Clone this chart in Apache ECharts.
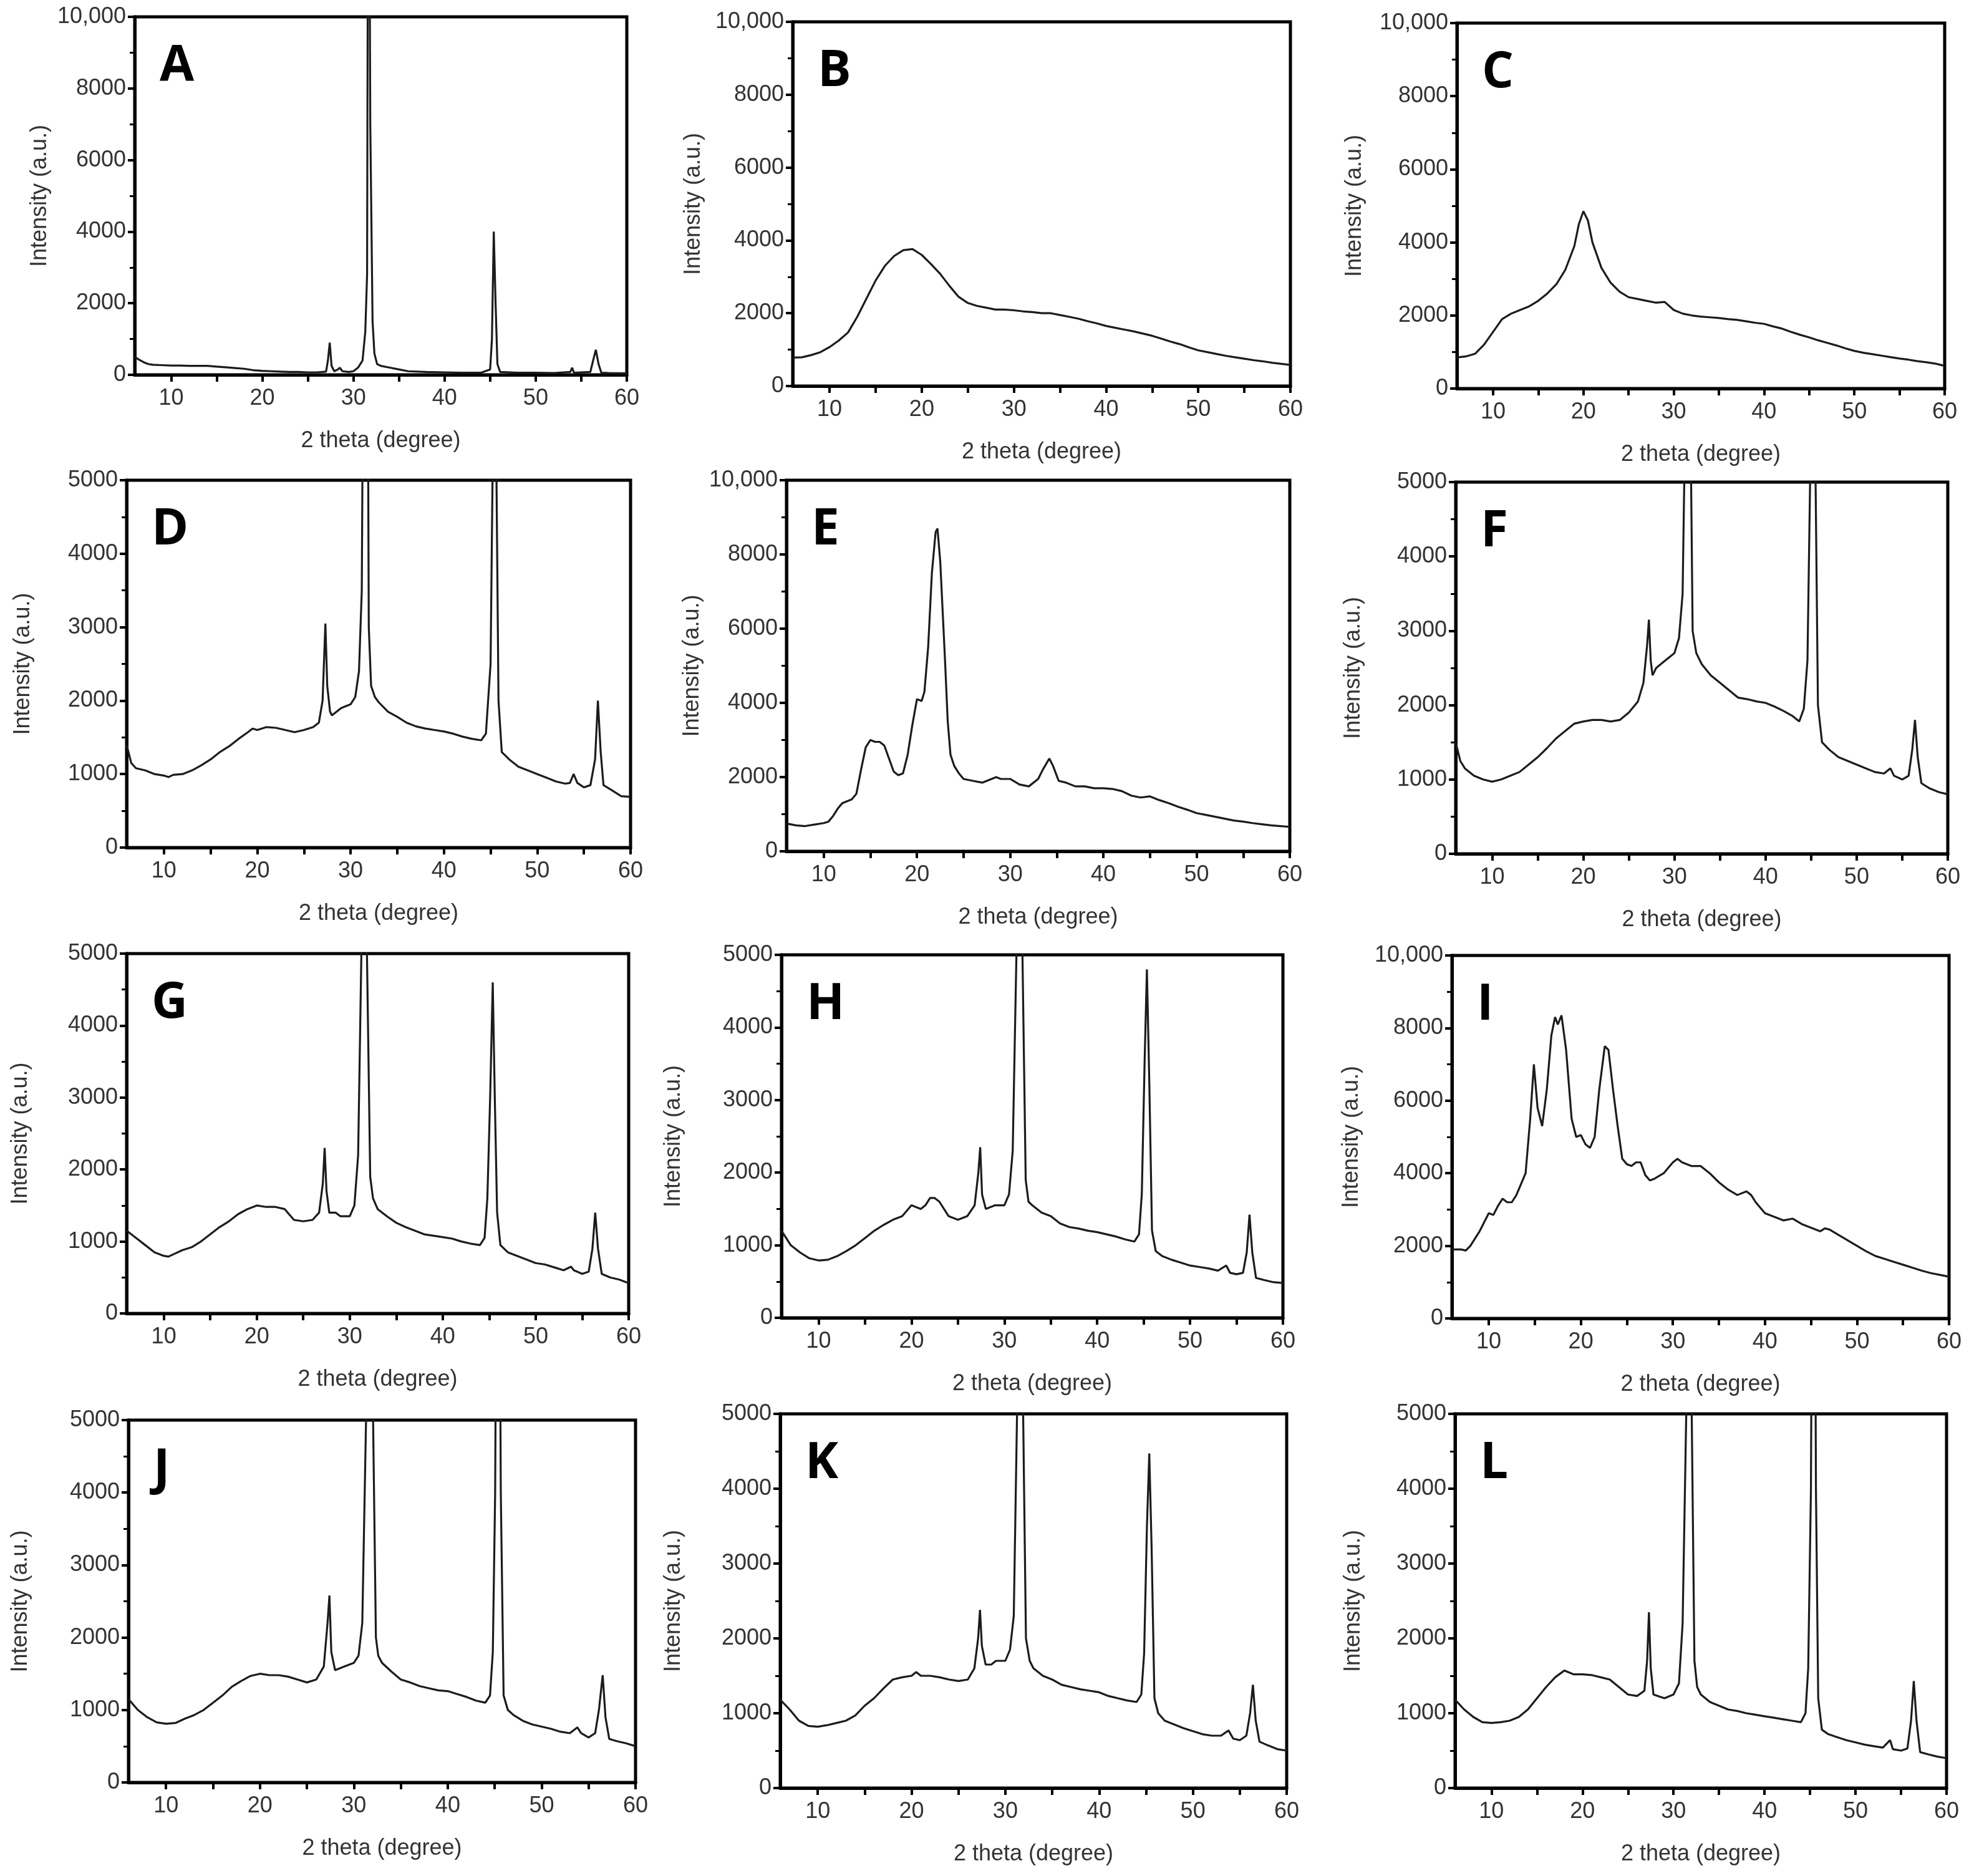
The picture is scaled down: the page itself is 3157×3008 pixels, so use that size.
<!DOCTYPE html>
<html><head><meta charset="utf-8">
<script src="https://cdn.jsdelivr.net/npm/echarts@6/dist/echarts.min.js"></script>
<style>html,body{margin:0;padding:0;background:#fff}#c{width:3157px;height:3008px}</style>
</head><body><div id="c"></div>
<script>
// ---------- DATA ----------
const letters = ['A','B','C','D','E','F','G','H','I','J','K','L'];
const yMaxes = [10000,10000,10000,5000,10000,5000,5000,5000,10000,5000,5000,5000];
const xLabelValues = [10,20,30,40,50,60];
const xTickValues = [10,15,20,25,30,35,40,45,50,55,60];
const xTitle = '2 theta (degree)';
const yTitle = 'Intensity (a.u.)';

const seriesA = [[6,500],[6.5,420],[7,350],[7.5,300],[8,280],[9,270],[10,260],[11,260],[12,250],[13,250],[14,250],[15,230],[16,210],[17,190],[18,170],[19,130],[20,110],[21,100],[22,90],[23,80],[24,80],[25,70],[26,70],[27,90],[27.2,400],[27.4,900],[27.6,250],[27.9,100],[28.3,150],[28.5,200],[28.8,100],[29.5,80],[30,100],[30.5,200],[31,400],[31.3,1200],[31.5,2800],[31.65,20000],[31.85,7000],[32.1,1500],[32.3,600],[32.6,300],[33,250],[34,200],[35,150],[36,100],[38,80],[40,70],[42,60],[44,60],[45,150],[45.2,1000],[45.4,4000],[45.6,2000],[45.8,300],[46.1,80],[48,60],[50,60],[52,50],[53.8,80],[54,200],[54.2,60],[56,80],[56.3,400],[56.6,700],[56.9,300],[57.2,60],[58,50],[60,40]];
const seriesB = [[6,780],[7,790],[8,850],[9,930],[10,1070],[11,1250],[12,1470],[13,1900],[14,2400],[15,2900],[16,3300],[17,3570],[18,3730],[19,3760],[20,3600],[21,3350],[22,3080],[23,2750],[24,2450],[25,2280],[26,2200],[27,2150],[28,2100],[29,2100],[30,2080],[31,2050],[32,2030],[33,2000],[34,2000],[35,1950],[36,1900],[37,1850],[38,1780],[39,1720],[40,1650],[41,1600],[42,1550],[43,1500],[44,1440],[45,1380],[46,1300],[47,1220],[48,1150],[49,1060],[50,980],[51,930],[52,880],[53,830],[54,790],[55,750],[56,710],[57,680],[58,640],[59,610],[60,580]];
const seriesC = [[6,850],[7,880],[8,950],[9,1200],[10,1550],[11,1900],[12,2050],[13,2150],[14,2250],[15,2400],[16,2600],[17,2850],[18,3250],[19,3900],[19.5,4500],[20,4850],[20.5,4600],[21,4000],[22,3300],[23,2900],[24,2650],[25,2500],[26,2450],[27,2400],[28,2350],[29,2370],[30,2150],[31,2050],[32,2000],[33,1970],[34,1950],[35,1930],[36,1900],[37,1880],[38,1840],[39,1800],[40,1770],[41,1700],[42,1640],[43,1550],[44,1470],[45,1400],[46,1320],[47,1250],[48,1180],[49,1100],[50,1030],[51,980],[52,940],[53,900],[54,860],[55,820],[56,790],[57,750],[58,720],[59,680],[60,620]];
const seriesD = [[6,1400],[6.5,1150],[7,1080],[8,1050],[9,1000],[10,980],[10.5,960],[11,990],[12,1000],[13,1050],[14,1120],[15,1200],[16,1300],[17,1380],[18,1480],[19,1570],[19.5,1620],[20,1600],[21,1640],[22,1630],[23,1600],[24,1570],[25,1600],[26,1640],[26.6,1700],[27.0,2000],[27.3,3050],[27.5,2200],[27.8,1850],[28,1800],[29,1900],[30,1950],[30.5,2050],[30.9,2400],[31.2,3500],[31.4,8000],[31.6,20000],[31.8,8000],[31.95,3000],[32.2,2200],[32.6,2050],[33,1980],[34,1850],[35,1780],[36,1700],[37,1650],[38,1620],[39,1600],[40,1580],[41,1550],[42,1510],[43,1480],[44,1460],[44.5,1550],[45.0,2500],[45.25,5500],[45.42,12000],[45.6,5500],[45.85,2000],[46.2,1300],[47,1200],[48,1100],[49,1050],[50,1000],[51,950],[52,900],[53,870],[53.5,880],[53.9,1000],[54.3,880],[55,820],[55.7,850],[56.2,1200],[56.5,2000],[56.8,1300],[57.1,850],[58,780],[59,700],[60,690]];
const seriesE = [[6,750],[7,700],[8,680],[9,720],[10,760],[10.5,800],[11,950],[11.5,1150],[12,1300],[13,1400],[13.5,1550],[14,2200],[14.5,2800],[15,3000],[15.5,2950],[16,2950],[16.5,2850],[17,2500],[17.5,2150],[18,2050],[18.5,2100],[19,2600],[19.5,3400],[20,4100],[20.5,4050],[20.8,4300],[21.2,5500],[21.6,7500],[22.0,8600],[22.2,8700],[22.5,7800],[23,5200],[23.3,3500],[23.6,2600],[24,2300],[24.5,2100],[25,1950],[26,1900],[27,1850],[28,1950],[28.5,2000],[29,1950],[30,1950],[31,1800],[32,1750],[33,1950],[33.5,2200],[34.2,2500],[34.6,2300],[35.2,1900],[36,1850],[37,1750],[38,1750],[39,1700],[40,1700],[41,1680],[42,1620],[43,1500],[44,1450],[45,1480],[46,1380],[47,1300],[48,1200],[49,1120],[50,1030],[51,980],[52,930],[53,880],[54,830],[55,800],[56,760],[57,730],[58,700],[59,680],[60,660]];
const seriesF = [[6,1500],[6.5,1250],[7,1150],[8,1050],[9,1000],[10,970],[11,1000],[12,1050],[13,1100],[14,1200],[15,1300],[16,1420],[17,1550],[18,1650],[19,1750],[20,1780],[21,1800],[22,1800],[23,1780],[24,1800],[25,1900],[26,2050],[26.6,2300],[27.0,2800],[27.2,3150],[27.4,2600],[27.6,2400],[28,2500],[29,2600],[30,2700],[30.5,2900],[30.9,3500],[31.2,6000],[31.5,20000],[31.75,6000],[32.0,3000],[32.4,2700],[33,2550],[34,2400],[35,2300],[36,2200],[37,2100],[38,2080],[39,2050],[40,2030],[41,1980],[42,1920],[43,1850],[43.7,1780],[44.2,1950],[44.6,2600],[44.95,5500],[45.2,12000],[45.45,5500],[45.75,2000],[46.2,1500],[47,1400],[48,1300],[49,1250],[50,1200],[51,1150],[52,1100],[53,1080],[53.7,1150],[54.1,1050],[55,1000],[55.7,1050],[56.1,1400],[56.4,1800],[56.7,1300],[57.1,950],[58,880],[59,830],[60,800]];
const seriesG = [[6,1150],[7,1050],[8,950],[9,850],[10,800],[10.5,790],[11,820],[12,880],[13,920],[14,1000],[15,1100],[16,1200],[17,1280],[18,1380],[19,1450],[20,1500],[21,1480],[22,1480],[23,1450],[24,1300],[25,1280],[26,1300],[26.7,1400],[27.1,1800],[27.3,2300],[27.5,1700],[27.8,1400],[28.5,1400],[29,1350],[30,1350],[30.5,1500],[30.9,2200],[31.25,5000],[31.55,20000],[31.85,5000],[32.2,1900],[32.5,1600],[33,1450],[34,1350],[35,1260],[36,1200],[37,1150],[38,1100],[39,1080],[40,1060],[41,1040],[42,1000],[43,970],[44,950],[44.5,1050],[44.8,1600],[45.1,3000],[45.38,4600],[45.6,3000],[45.85,1400],[46.2,950],[47,850],[48,800],[49,750],[50,700],[51,680],[52,640],[53,600],[53.8,650],[54.1,600],[55,550],[55.7,580],[56.1,900],[56.4,1400],[56.7,900],[57.1,550],[58,500],[59,470],[60,420]];
const seriesH = [[6,1200],[7,1000],[8,900],[9,820],[10,790],[11,800],[12,850],[13,920],[14,1000],[15,1100],[16,1200],[17,1280],[18,1350],[19,1400],[20,1550],[21,1500],[21.5,1550],[22,1650],[22.5,1650],[23,1600],[24,1400],[25,1350],[26,1400],[26.8,1550],[27.2,2000],[27.4,2350],[27.6,1700],[28,1500],[29,1550],[30,1550],[30.5,1700],[30.9,2300],[31.3,5000],[31.6,20000],[31.95,5000],[32.3,1900],[32.6,1600],[33,1550],[34,1450],[35,1400],[36,1300],[37,1250],[38,1230],[39,1200],[40,1180],[41,1150],[42,1120],[43,1080],[44,1050],[44.5,1150],[44.8,1700],[45.1,3500],[45.35,4800],[45.6,3300],[45.9,1200],[46.3,920],[47,850],[48,800],[49,760],[50,720],[51,700],[52,680],[53,650],[53.9,720],[54.3,620],[55,600],[55.7,620],[56.1,900],[56.4,1420],[56.7,900],[57.1,550],[58,520],[59,490],[60,480]];
const seriesI = [[6,1900],[7,1900],[7.5,1870],[8,2000],[9,2400],[10,2900],[10.5,2850],[11,3100],[11.5,3300],[12,3200],[12.5,3200],[13,3400],[13.5,3700],[14,4000],[14.5,5500],[14.9,7000],[15.3,5800],[15.8,5300],[16.3,6300],[16.8,7800],[17.2,8300],[17.5,8100],[17.9,8350],[18.4,7400],[19,5500],[19.5,5000],[20,5050],[20.5,4800],[21,4700],[21.5,5000],[22,6300],[22.6,7500],[23,7400],[23.5,6300],[24,5300],[24.5,4400],[25,4250],[25.5,4200],[26,4300],[26.5,4300],[27,3950],[27.5,3800],[28,3850],[29,4000],[29.5,4150],[30,4300],[30.5,4400],[31,4300],[32,4200],[33,4200],[34,4000],[35,3750],[36,3550],[37,3400],[38,3500],[38.5,3400],[39,3200],[40,2900],[41,2800],[42,2700],[43,2750],[44,2600],[45,2500],[46,2400],[46.5,2480],[47,2450],[48,2300],[49,2150],[50,2000],[51,1850],[52,1720],[53,1640],[54,1560],[55,1480],[56,1400],[57,1320],[58,1250],[59,1200],[60,1150]];
const seriesJ = [[6,1150],[7,1000],[8,900],[9,830],[10,810],[11,820],[12,880],[13,930],[14,1000],[15,1100],[16,1200],[17,1320],[18,1400],[19,1470],[20,1500],[21,1480],[22,1480],[23,1460],[24,1420],[25,1380],[26,1420],[26.8,1600],[27.2,2200],[27.4,2580],[27.6,1800],[28,1550],[29,1600],[30,1650],[30.5,1750],[30.9,2200],[31.3,5000],[31.65,20000],[32.05,5000],[32.35,2000],[32.6,1750],[33,1650],[34,1530],[35,1420],[36,1380],[37,1330],[38,1300],[39,1270],[40,1260],[41,1220],[42,1180],[43,1130],[44,1100],[44.5,1200],[44.8,1800],[45.05,4000],[45.35,12000],[45.65,4000],[45.95,1200],[46.4,1000],[47,930],[48,850],[49,800],[50,770],[51,740],[52,700],[53,680],[53.8,760],[54.2,680],[55,620],[55.7,680],[56.1,1000],[56.5,1480],[56.8,900],[57.2,600],[58,570],[59,540],[60,500]];
const seriesK = [[6,1180],[7,1050],[8,900],[9,830],[10,820],[11,840],[12,870],[13,900],[14,970],[15,1100],[16,1200],[17,1330],[18,1450],[19,1480],[20,1500],[20.5,1550],[21,1500],[22,1500],[23,1480],[24,1450],[25,1430],[26,1450],[26.7,1600],[27.1,2000],[27.3,2380],[27.5,1900],[27.9,1650],[28.5,1650],[29,1700],[30,1700],[30.5,1850],[30.9,2300],[31.25,5000],[31.55,20000],[31.9,5000],[32.2,2000],[32.6,1700],[33,1600],[34,1500],[35,1450],[36,1380],[37,1350],[38,1320],[39,1300],[40,1280],[41,1230],[42,1200],[43,1170],[44,1150],[44.5,1250],[44.8,1800],[45.1,3500],[45.35,4470],[45.6,3200],[45.9,1200],[46.3,1000],[47,900],[48,850],[49,800],[50,760],[51,720],[52,700],[53,700],[53.8,770],[54.3,660],[55,640],[55.7,700],[56.1,1000],[56.4,1380],[56.7,900],[57.1,620],[58,570],[59,520],[60,500]];
const seriesL = [[6,1180],[7,1050],[8,950],[9,880],[10,870],[11,880],[12,900],[13,950],[14,1050],[15,1200],[16,1350],[17,1480],[18,1570],[19,1520],[20,1520],[21,1510],[22,1480],[23,1450],[24,1350],[25,1250],[26,1230],[26.8,1300],[27.1,1700],[27.3,2350],[27.5,1600],[27.8,1250],[28.5,1220],[29,1200],[30,1250],[30.6,1400],[31.0,2200],[31.4,5000],[31.7,20000],[32.0,5000],[32.3,1700],[32.6,1350],[33,1250],[34,1150],[35,1100],[36,1050],[37,1030],[38,1000],[39,980],[40,960],[41,940],[42,920],[43,900],[44,880],[44.5,1000],[44.8,1600],[45.1,4000],[45.4,12000],[45.65,4000],[45.9,1200],[46.3,780],[47,720],[48,680],[49,640],[50,610],[51,580],[52,560],[53,540],[53.8,640],[54.1,520],[55,500],[55.7,530],[56.1,900],[56.4,1430],[56.7,900],[57.1,480],[58,450],[59,420],[60,400]];
const allSeries = [seriesA,seriesB,seriesC,seriesD,seriesE,seriesF,seriesG,seriesH,seriesI,seriesJ,seriesK,seriesL];

// ---------- LAYOUT (pixels) ----------
const layout = [
  {l:216, t:27,  w:789, h:574, yg:134},
  {l:1271,t:35,  w:798, h:584, yg:141},
  {l:2336,t:37,  w:782, h:586, yg:146},
  {l:203, t:770, w:808, h:589, yg:148},
  {l:1261,t:770, w:807, h:595, yg:133},
  {l:2334,t:773, w:789, h:596, yg:146},
  {l:203, t:1529,w:805, h:577, yg:152},
  {l:1253,t:1531,w:804, h:582, yg:155},
  {l:2328,t:1532,w:797, h:582, yg:143},
  {l:206, t:2277,w:813, h:581, yg:155},
  {l:1251,t:2267,w:812, h:600, yg:153},
  {l:2333,t:2267,w:788, h:600, yg:145}
];

const FONT = '"Liberation Sans", Arial, sans-serif';
const TXT = '#333';

const grids = [], xAxes = [], yAxes = [], series = [], graphics = [];
layout.forEach((g, i) => {
  grids.push({left:g.l, top:g.t, width:g.w, height:g.h, show:true, borderColor:'#000', borderWidth:5,
              backgroundColor:'transparent', containLabel:false, outerBoundsMode:'none'});
  xAxes.push({
    type:'value', gridIndex:i, min:6, max:60,
    name:xTitle, nameLocation:'middle', nameGap:88,
    nameTextStyle:{fontSize:36, color:TXT, fontFamily:FONT},
    axisLine:{show:true, onZero:false, lineStyle:{color:'#000', width:5}},
    axisTick:{show:true, inside:false, length:11, customValues:xTickValues, lineStyle:{color:'#000', width:4}},
    axisLabel:{show:true, customValues:xLabelValues, margin:20, fontSize:36, color:TXT, fontFamily:FONT},
    splitLine:{show:false}
  });
  const ymax = yMaxes[i];
  yAxes.push({
    type:'value', gridIndex:i, min:0, max:ymax, interval:ymax/5,
    name:yTitle, nameLocation:'middle', nameGap:g.yg,
    nameTextStyle:{fontSize:36, color:TXT, fontFamily:FONT},
    axisLine:{show:true, lineStyle:{color:'#000', width:5}},
    axisTick:{show:true, inside:false, length:11, lineStyle:{color:'#000', width:4}},
    minorTick:{show:true, splitNumber:2, length:8, lineStyle:{color:'#000', width:3}},
    axisLabel:{show:true, margin:14, fontSize:36, color:TXT, fontFamily:FONT,
               formatter: v => v === 10000 ? '10,000' : String(v)},
    splitLine:{show:false}, minorSplitLine:{show:false}
  });
  series.push({
    type:'line', xAxisIndex:i, yAxisIndex:i, data:allSeries[i],
    showSymbol:false, symbol:'none', clip:true, silent:true,
    lineStyle:{color:'#1c1c1c', width:3.2}
  });
  graphics.push({
    type:'text', x:g.l + 40, y:g.t + 80, silent:true,
    style:{text:letters[i], font:'bold 80px "Open Sans", "Liberation Sans", sans-serif', fill:'#000',
           textAlign:'left', textVerticalAlign:'middle', verticalAlign:'middle'}
  });
});

const chart = echarts.init(document.getElementById('c'), null, {renderer:'canvas'});
chart.setOption({
  animation:false,
  backgroundColor:'#fff',
  grid:grids, xAxis:xAxes, yAxis:yAxes, series:series, graphic:graphics
});
</script></body></html>
